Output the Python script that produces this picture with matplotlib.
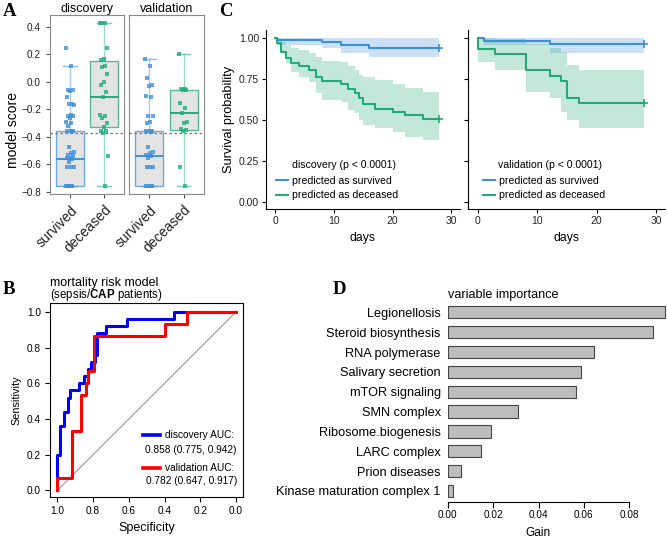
import numpy as np
import matplotlib.pyplot as plt
from matplotlib.lines import Line2D

W, H = 667, 542

plt.rcParams['mathtext.fontset'] = 'custom'
plt.rcParams['mathtext.rm'] = 'Liberation Sans'
plt.rcParams['mathtext.bf'] = 'Liberation Sans:bold'

SANS = ['Liberation Sans', 'DejaVu Sans']
SERIF = ['Liberation Serif', 'DejaVu Serif']

BLUE = '#3f8fd8'
GREEN = '#22ab79'

# ---- A: model score per outcome
groups = ['survived', 'deceased']
disc_surv = [0.25, 0.115, -0.06, -0.06, -0.065, -0.11, -0.16, -0.16, -0.165, -0.24, -0.25,
             -0.25, -0.26, -0.29, -0.30, -0.32, -0.355, -0.36, -0.36, -0.36, -0.47, -0.51,
             -0.52, -0.53, -0.54, -0.55, -0.55, -0.56, -0.58, -0.62, -0.62, -0.62, -0.76,
             -0.76, -0.76, -0.76, -0.76]
disc_dec = [0.43, 0.43, 0.43, 0.25, 0.17, 0.16, 0.115, 0.11, 0.06, 0.0, -0.02, -0.07, -0.11,
            -0.24, -0.25, -0.26, -0.30, -0.33, -0.36, -0.36, -0.37, -0.54, -0.76]
val_surv = [0.17, 0.115, 0.03, -0.02, -0.03, -0.10, -0.11, -0.245, -0.25, -0.29, -0.30, -0.36,
            -0.36, -0.36, -0.365, -0.475, -0.51, -0.52, -0.53, -0.54, -0.55, -0.62, -0.62,
            -0.62, -0.76, -0.76, -0.76, -0.76]
val_dec = [0.20, -0.05, -0.05, -0.055, -0.06, -0.155, -0.19, -0.225, -0.29, -0.30, -0.34,
           -0.35, -0.36, -0.62, -0.76]
# whislo, q1, median, q3, whishi
disc_box = [[-0.76, -0.76, -0.56, -0.36, 0.115], [-0.76, -0.33, -0.11, 0.155, 0.43]]
val_box = [[-0.76, -0.76, -0.54, -0.36, 0.17], [-0.76, -0.35, -0.225, -0.06, 0.20]]
cutoff = -0.37

# ---- B: ROC points (specificity, sensitivity)
roc_disc_spec = [1.0, 1.0, 0.985, 0.985, 0.962, 0.962, 0.938, 0.938, 0.929, 0.929, 0.877, 0.877,
                 0.85, 0.85, 0.826, 0.826, 0.813, 0.813, 0.789, 0.789, 0.78, 0.78, 0.727, 0.727,
                 0.611, 0.611, 0.349, 0.349, 0.0]
roc_disc_sens = [0.0, 0.2, 0.2, 0.36, 0.36, 0.44, 0.44, 0.52, 0.52, 0.56, 0.56, 0.60, 0.60, 0.64,
                 0.64, 0.68, 0.68, 0.72, 0.72, 0.76, 0.76, 0.88, 0.88, 0.92, 0.92, 0.96, 0.96,
                 1.0, 1.0]
roc_val_spec = [1.0, 1.0, 0.919, 0.919, 0.869, 0.869, 0.841, 0.841, 0.826, 0.826, 0.792, 0.792,
                0.40, 0.40, 0.274, 0.274, 0.0]
roc_val_sens = [0.0, 0.067, 0.067, 0.333, 0.333, 0.533, 0.533, 0.60, 0.60, 0.667, 0.667, 0.867,
                0.867, 0.933, 0.933, 1.0, 1.0]

# ---- C: Kaplan-Meier steps
disc_t_surv = [0, 0.3, 8.0, 11.2, 16.0, 28.0]
disc_s_surv = [1.0, 0.988, 0.972, 0.956, 0.939, 0.939]
disc_lo_surv = [1.0, 0.955, 0.935, 0.905, 0.884, 0.884]
disc_hi_surv = [1.0, 1.0, 1.0, 1.0, 1.0, 1.0]
disc_t_dec = [0, 0.3, 0.9, 1.8, 2.7, 4.1, 5.7, 6.9, 7.9, 11.2, 12.4, 13.5, 14.2, 15.0, 17.0,
              20.1, 22.1, 25.2, 28.0]
disc_s_dec = [1.0, 0.966, 0.91, 0.876, 0.845, 0.828, 0.803, 0.762, 0.733, 0.718, 0.685, 0.66,
              0.63, 0.595, 0.567, 0.549, 0.527, 0.502, 0.502]
disc_hi_dec = [1.0, 1.0, 0.975, 0.955, 0.935, 0.925, 0.905, 0.88, 0.86, 0.85, 0.825, 0.805,
               0.772, 0.762, 0.742, 0.72, 0.691, 0.671, 0.671]
disc_lo_dec = [1.0, 0.955, 0.905, 0.844, 0.793, 0.762, 0.732, 0.661, 0.62, 0.61, 0.559, 0.539,
               0.498, 0.468, 0.447, 0.427, 0.396, 0.376, 0.376]

val_t_surv = [0, 1.1, 12.2, 28.0]
val_s_surv = [1.0, 0.98, 0.962, 0.962]
val_lo_surv = [1.0, 0.955, 0.905, 0.905]
val_hi_surv = [1.0, 1.0, 1.0, 1.0]
val_t_dec = [0, 0.1, 3.0, 8.1, 12.2, 14.0, 15.1, 17.1, 28.0]
val_s_dec = [1.0, 0.933, 0.90, 0.80, 0.767, 0.733, 0.633, 0.60, 0.60]
val_hi_dec = [1.0, 1.0, 0.99, 0.96, 0.935, 0.91, 0.834, 0.803, 0.803]
val_lo_dec = [1.0, 0.854, 0.803, 0.671, 0.63, 0.545, 0.498, 0.451, 0.451]

# ---- D: variable importance
features = ['Legionellosis', 'Steroid biosynthesis', 'RNA polymerase', 'Salivary secretion',
            'mTOR signaling', 'SMN complex', 'Ribosome.biogenesis', 'LARC complex',
            'Prion diseases', 'Kinase maturation complex 1']
gain = [0.0958, 0.0906, 0.0646, 0.0587, 0.0565, 0.0308, 0.0189, 0.0145, 0.0057, 0.0025]


def px_box(l, t, r, b):
    return [l / W, 1 - b / H, (r - l) / W, (b - t) / H]


def jitter(n, width=0.12):
    return ((np.arange(n) * 0.618034) % 1.0 - 0.5) * 2 * width


fig = plt.figure(figsize=(W / 100, H / 100), dpi=100)

# panel letters
for lab, x, y in [('A', 3, 12), ('C', 219, 11), ('B', 3, 290), ('D', 333, 290)]:
    fig.text(x / W, 1 - y / H, lab, family=SERIF, weight='bold', fontsize=13.5, va='center')

# ================= A
axA1 = fig.add_axes(px_box(50, 15, 124, 194))
axA2 = fig.add_axes(px_box(129, 15, 204, 194))
for ax, title, pts, boxes in [(axA1, 'discovery', [disc_surv, disc_dec], disc_box),
                              (axA2, 'validation', [val_surv, val_dec], val_box)]:
    for i, (vals, b, col) in enumerate(zip(pts, boxes, [BLUE, GREEN])):
        st = dict(whislo=b[0], q1=b[1], med=b[2], q3=b[3], whishi=b[4], fliers=[])
        ax.bxp([st], positions=[i + 1], widths=0.82, patch_artist=True, showfliers=False,
               capwidths=0.4,
               boxprops=dict(facecolor='#dcdcdc', edgecolor=col, alpha=0.75, lw=1.0),
               medianprops=dict(color=col, lw=1.4),
               whiskerprops=dict(color=col, alpha=0.45, lw=1.0),
               capprops=dict(color=col, alpha=0.6, lw=1.0))
        ax.scatter(i + 1 + jitter(len(vals)), vals, marker='s', s=10, color=col,
                   alpha=0.8, lw=0, zorder=3)
    ax.axhline(cutoff, color='#777777', ls=(0, (2, 2)), lw=0.9, zorder=4)
    ax.set_xlim(0.4, 2.6)
    ax.set_ylim(-0.815, 0.487)
    ax.set_xticks([1, 2])
    ax.set_xticklabels(groups, rotation=45, ha='right', va='top', rotation_mode='anchor',
                       fontsize=10, family=SANS)
    ax.set_title(title, fontsize=9, family=SANS, pad=2)
    for s in ax.spines.values():
        s.set_color('#888888')
        s.set_linewidth(0.8)
    ax.tick_params(length=3, color='#555555', width=0.8, labelcolor='#222222')
axA1.set_yticks([-0.8, -0.6, -0.4, -0.2, 0.0, 0.2, 0.4])
axA1.set_yticklabels(['−0.8', '−0.6', '−0.4', '−0.2', '0.0', '0.2', '0.4'], family=SANS,
                     fontsize=7.2)
axA1.set_ylabel('model score', fontsize=10, family=SANS)
axA1.yaxis.set_label_coords(-0.40, 0.36)
axA2.set_yticks([])

# ================= C
axC1 = fig.add_axes(px_box(266, 30, 460, 209))
axC2 = fig.add_axes(px_box(468, 30, 665, 209))
c_sets = [
    (axC1, 'discovery (p < 0.0001)', 0.052, 0.132,
     [(disc_t_surv, disc_s_surv, disc_lo_surv, disc_hi_surv, BLUE),
      (disc_t_dec, disc_s_dec, disc_lo_dec, disc_hi_dec, GREEN)]),
    (axC2, 'validation (p < 0.0001)', 0.075, 0.154,
     [(val_t_surv, val_s_surv, val_lo_surv, val_hi_surv, BLUE),
      (val_t_dec, val_s_dec, val_lo_dec, val_hi_dec, GREEN)]),
]
for ax, ltitle, lx, tx, curves in c_sets:
    for t, s, lo, hi, col in curves:
        ax.fill_between(t, lo, hi, step='post', color=col, alpha=0.27, lw=0)
    for t, s, lo, hi, col in curves:
        ax.step(t, s, where='post', color=col, lw=1.5)
        ax.plot(t[-1], s[-1], marker='+', color=col, ms=6, mew=1.2)
    ax.set_xlim(-1.6, 31.5)
    ax.set_ylim(-0.045, 1.047)
    ax.set_xticks([0, 10, 20, 30])
    ax.set_yticks([0, 0.25, 0.5, 0.75, 1.0])
    ax.set_yticklabels(['0.00', '0.25', '0.50', '0.75', '1.00'])
    for lbl in ax.get_xticklabels() + ax.get_yticklabels():
        lbl.set_family(SANS)
        lbl.set_fontsize(7.5)
    ax.spines[['top', 'right']].set_visible(False)
    ax.tick_params(length=3, width=0.8, labelcolor='#222222', pad=2)
    ax.set_xlabel('days', fontsize=8.8, family=SANS, labelpad=4)
    handles = [Line2D([], [], color=BLUE, lw=1.5), Line2D([], [], color=GREEN, lw=1.5)]
    ax.legend(handles, ['predicted as survived', 'predicted as deceased'],
              loc='upper left', bbox_to_anchor=(lx, 0.185), frameon=False,
              prop=dict(family=SANS, size=7.6), handlelength=1.15, handletextpad=0.35,
              labelspacing=0.42, borderpad=0, borderaxespad=0)
    ax.text(tx, 0.245, ltitle, transform=ax.transAxes, family=SANS, fontsize=7.6,
            va='center', ha='left')
axC1.set_ylabel('Survival probability', fontsize=9.2, family=SANS, labelpad=3)
axC2.tick_params(labelleft=False)

# ================= B
axB = fig.add_axes(px_box(50, 303, 243, 497))
axB.plot([1, 0], [0, 1], color='#aaaaaa', lw=1)
axB.plot(roc_disc_spec, roc_disc_sens, color='#0000ff', lw=2.2)
axB.plot(roc_val_spec, roc_val_sens, color='#ff0000', lw=2.2)
axB.set_xlim(1.041, -0.039)
axB.set_ylim(-0.037, 1.05)
axB.set_xticks([1.0, 0.8, 0.6, 0.4, 0.2, 0.0])
axB.set_yticks([0.0, 0.2, 0.4, 0.6, 0.8, 1.0])
axB.set_xticklabels(['1.0', '0.8', '0.6', '0.4', '0.2', '0.0'])
axB.set_yticklabels(['0.0', '0.2', '0.4', '0.6', '0.8', '1.0'])
for lbl in axB.get_xticklabels() + axB.get_yticklabels():
    lbl.set_family(SANS)
    lbl.set_fontsize(7.3)
axB.tick_params(length=3.5, width=0.8, pad=3)
axB.set_xlabel('Specificity', fontsize=9, family=SANS, labelpad=4)
axB.set_ylabel('Sensitivity', fontsize=7.8, family=SANS, labelpad=4)
axB.text(0.0, 1.105, 'mortality risk model', transform=axB.transAxes, family=SANS,
         fontsize=9, va='center')
axB.text(0.0, 1.04, r'(sepsis/$\mathbf{CAP}$ patients)', transform=axB.transAxes,
         family=SANS, fontsize=8.3, va='center')
# legend, drawn in axes fraction
for yl, y2, col, name, auc in [(0.32, 0.24, '#0000ff', 'discovery AUC:', '0.858 (0.775, 0.942)'),
                               (0.15, 0.08, '#ff0000', 'validation AUC:', '0.782 (0.647, 0.917)')]:
    axB.plot([0.48, 0.57], [yl, yl], color=col, lw=2.6, transform=axB.transAxes)
    axB.text(0.595, yl, name, transform=axB.transAxes, family=SANS, fontsize=7.3, va='center')
    axB.text(0.968, y2, auc, transform=axB.transAxes, family=SANS, fontsize=7.3,
             va='center', ha='right')

# ================= D
axD = fig.add_axes(px_box(447.7, 302, 667, 501.7))
ypos = np.arange(len(features))[::-1]
axD.barh(ypos, gain, height=0.62, color='#bdbdbd', edgecolor='#444444', lw=0.8)
axD.set_xlim(0, 0.0966)
axD.set_ylim(-0.54, 9.52)
axD.set_yticks(ypos)
axD.set_yticklabels(features, family=SANS, fontsize=9.2)
axD.tick_params(axis='y', length=0, pad=5)
axD.set_xticks([0.0, 0.02, 0.04, 0.06, 0.08])
axD.set_xticklabels(['0.00', '0.02', '0.04', '0.06', '0.08'], family=SANS, fontsize=7.2)
axD.tick_params(axis='x', length=4, width=0.8, pad=2)
axD.spines[['top', 'right', 'left']].set_visible(False)
axD.spines['bottom'].set_bounds(0, 0.08)
axD.spines['bottom'].set_linewidth(0.8)
axD.set_xlabel('Gain', family=SANS, fontsize=8.6)
axD.xaxis.set_label_coords(0.412, -0.125)
axD.text(0.0, 1.035, 'variable importance', transform=axD.transAxes, family=SANS,
         fontsize=9.1, va='center')

fig.savefig('out.png', dpi=100)
